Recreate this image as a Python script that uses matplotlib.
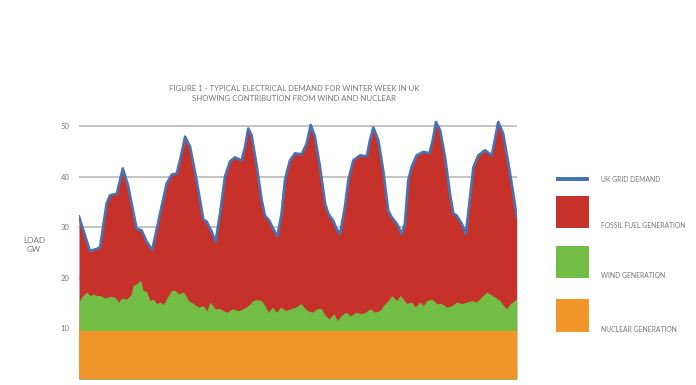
import matplotlib
matplotlib.use("Agg")
import matplotlib.pyplot as plt
from matplotlib.patches import Rectangle
import numpy as np

plt.rcParams['font.family'] = ['Lato', 'DejaVu Sans']

# UK grid demand over one winter week (hours from start, GW)
demand_hour = [0.0, 4.2, 6.8, 8.1, 10.6, 11.9, 14.5, 16.8, 18.8, 22.1, 24.0, 26.0, 28.1,
               31.1, 33.6, 35.6, 37.5, 39.1, 40.7, 42.6, 45.1, 47.7, 49.0, 50.9, 52.4,
               54.1, 56.0, 57.9, 59.8, 62.4, 63.7, 64.9, 66.2, 68.2, 70.1, 71.3, 73.0,
               74.5, 76.1, 77.7, 79.0, 80.9, 82.9, 85.4, 87.3, 88.9, 90.5, 92.4, 94.4,
               95.6, 97.5, 98.8, 100.1, 102.0, 103.3, 105.2, 107.8, 110.4, 111.6, 112.9,
               114.8, 116.7, 118.6, 119.9, 121.9, 123.8, 125.0, 126.3, 127.6, 129.5,
               132.1, 134.4, 135.7, 136.9, 138.5, 140.4, 142.3, 143.6, 144.9, 146.8,
               148.4, 150.0, 151.3, 153.2, 155.7, 158.3, 159.6, 160.8, 162.7, 164.7,
               166.6, 167.9]
demand = [32.1, 25.3, 25.7, 26.1, 34.7, 36.3, 36.6, 41.6, 38.3, 29.7, 29.4, 27.1, 25.5,
          32.7, 38.6, 40.4, 40.6, 44.0, 47.9, 45.9, 39.3, 31.5, 31.1, 29.1, 27.1,
          32.7, 40.0, 43.0, 43.8, 43.2, 45.9, 49.5, 48.2, 42.0, 35.3, 32.3, 31.3,
          29.7, 28.2, 32.7, 39.3, 43.2, 44.6, 44.4, 46.5, 50.2, 47.9, 42.0, 34.7,
          32.7, 31.3, 29.7, 28.6, 34.0, 39.3, 43.2, 44.2, 44.0, 47.2, 49.7,
          47.2, 41.2, 33.3, 32.0, 30.7, 28.7, 30.7, 39.3, 41.9, 44.2,
          44.9, 44.6, 47.2, 50.8, 49.2, 43.9, 36.6, 32.7, 32.3, 30.7,
          28.7, 36.0, 41.9, 44.2, 45.2, 44.2, 47.5, 50.8, 48.5, 42.6,
          36.6, 32.0]

# nuclear output, roughly flat all week (GW)
nuclear = 9.5

# wind generation (GW, stacked on top of nuclear)
wind_hour = [0.0, 1.0, 2.9, 4.2, 5.5, 6.8, 8.1, 10.0, 11.9, 13.8, 15.1, 16.4, 18.3,
             19.9, 20.8, 22.1, 23.6, 24.6, 25.9, 27.2, 28.5, 29.8, 31.1, 32.3, 34.3,
             35.6, 36.9, 38.1, 40.1, 42.0, 43.9, 45.8, 47.7, 49.0, 50.3, 52.2, 54.1,
             56.6, 59.1, 61.1, 63.0, 64.9, 66.8, 68.1, 70.0, 71.3, 72.6, 74.2, 75.8,
             77.4, 79.3, 81.2, 83.1, 85.1, 86.3, 87.6, 89.5, 91.4, 92.7, 94.6, 95.9,
             97.8, 99.1, 100.4, 102.3, 104.2, 106.2, 108.1, 110.0, 111.6, 113.5,
             115.4, 116.7, 118.6, 119.9, 121.9, 123.2, 124.4, 125.7, 127.6, 128.9,
             130.8, 132.1, 133.4, 135.3, 137.2, 139.1, 141.0, 143.0, 144.9, 146.8,
             148.7, 150.6, 152.5, 154.4, 156.4, 157.6, 159.6, 161.5, 162.8, 164.1,
             165.4, 167.9]
wind = [5.7, 6.7, 7.7, 7.0, 7.3, 7.0, 7.0, 6.5, 6.8, 6.7, 5.7, 6.5, 6.3,
        7.1, 9.0, 9.3, 10.0, 8.0, 7.8, 6.0, 6.3, 5.4, 5.7, 5.2, 7.0,
        8.0, 8.0, 7.3, 7.7, 6.0, 5.4, 4.7, 5.0, 4.0, 5.7, 4.4, 4.4,
        3.7, 4.4, 4.0, 4.4, 5.0, 6.0, 6.2, 6.0, 5.0, 3.7, 4.7, 3.7,
        4.7, 4.0, 4.4, 4.7, 5.4, 4.7, 4.0, 3.7, 4.4, 4.5, 3.0, 2.4,
        3.4, 2.0, 3.0, 3.7, 3.0, 3.7, 3.4, 3.7, 4.4, 3.7,
        4.0, 5.0, 6.0, 7.0, 6.0, 7.0, 6.3, 5.4, 5.7, 4.7,
        5.7, 5.0, 6.0, 6.3, 5.4, 5.4, 4.7, 5.0, 5.7, 5.4,
        5.7, 6.0, 5.7, 6.7, 7.7, 7.3, 6.7, 6.0, 5.0, 4.4,
        5.4, 6.3]

red = '#c6312a'
green = '#72bd45'
orange = '#f1952a'
blue = '#4772b3'
txt = '#767676'

fig = plt.figure(figsize=(6.96, 3.85), dpi=100)
ax = fig.add_axes([0.1135, 0.0156, 0.6293, 0.6834])

# layered areas: fossil fills up to demand, wind and nuclear drawn over it
ax.fill_between(demand_hour, 0, demand, color=red, lw=0, zorder=2)
wind_top = np.array(wind) + nuclear
ax.fill_between(wind_hour, 0, wind_top, color=green, lw=0, zorder=3)
ax.fill_between([0, 168], 0, nuclear, color=orange, lw=0, zorder=4)
ax.plot(demand_hour, demand, color=blue, lw=1.9, zorder=5, solid_joinstyle='round')

ax.set_xlim(0, 168)
ax.set_ylim(0, 52)
ax.set_yticks([10, 20, 30, 40, 50])
ax.set_xticks([])
ax.yaxis.grid(True, color='#b3b3b3', lw=1.1)
ax.set_axisbelow(True)
for s in ax.spines.values():
    s.set_visible(False)
ax.tick_params(axis='y', length=0, pad=7, labelsize=5.5, labelcolor=txt)

fig.text(34 / 696, 1 - 245 / 385, 'LOAD\nGW', ha='center', va='center',
         fontsize=5.8, color=txt, linespacing=1.3)
fig.text(294 / 696, 1 - 93.5 / 385,
         'FIGURE 1 - TYPICAL ELECTRICAL DEMAND FOR WINTER WEEK IN UK\n'
         'SHOWING CONTRIBUTION FROM WIND AND NUCLEAR',
         ha='center', va='center', fontsize=5.6, color=txt, linespacing=1.35)

# legend drawn by hand at the right side
leg_items = [('UK GRID DEMAND', blue, 177, 181, 179.3),
             ('FOSSIL FUEL GENERATION', red, 195.7, 227.7, 226),
             ('WIND GENERATION', green, 246, 278.3, 276),
             ('NUCLEAR GENERATION', orange, 299.3, 331.7, 329.3)]
for label, col, y0, y1, ty in leg_items:
    fig.add_artist(Rectangle((556 / 696, 1 - y1 / 385), 33 / 696, (y1 - y0) / 385,
                             transform=fig.transFigure, color=col, lw=0))
    fig.text(601 / 696, 1 - ty / 385, label, ha='left', va='center',
             fontsize=4.9, color=txt)

fig.savefig('out.png', dpi=100)
